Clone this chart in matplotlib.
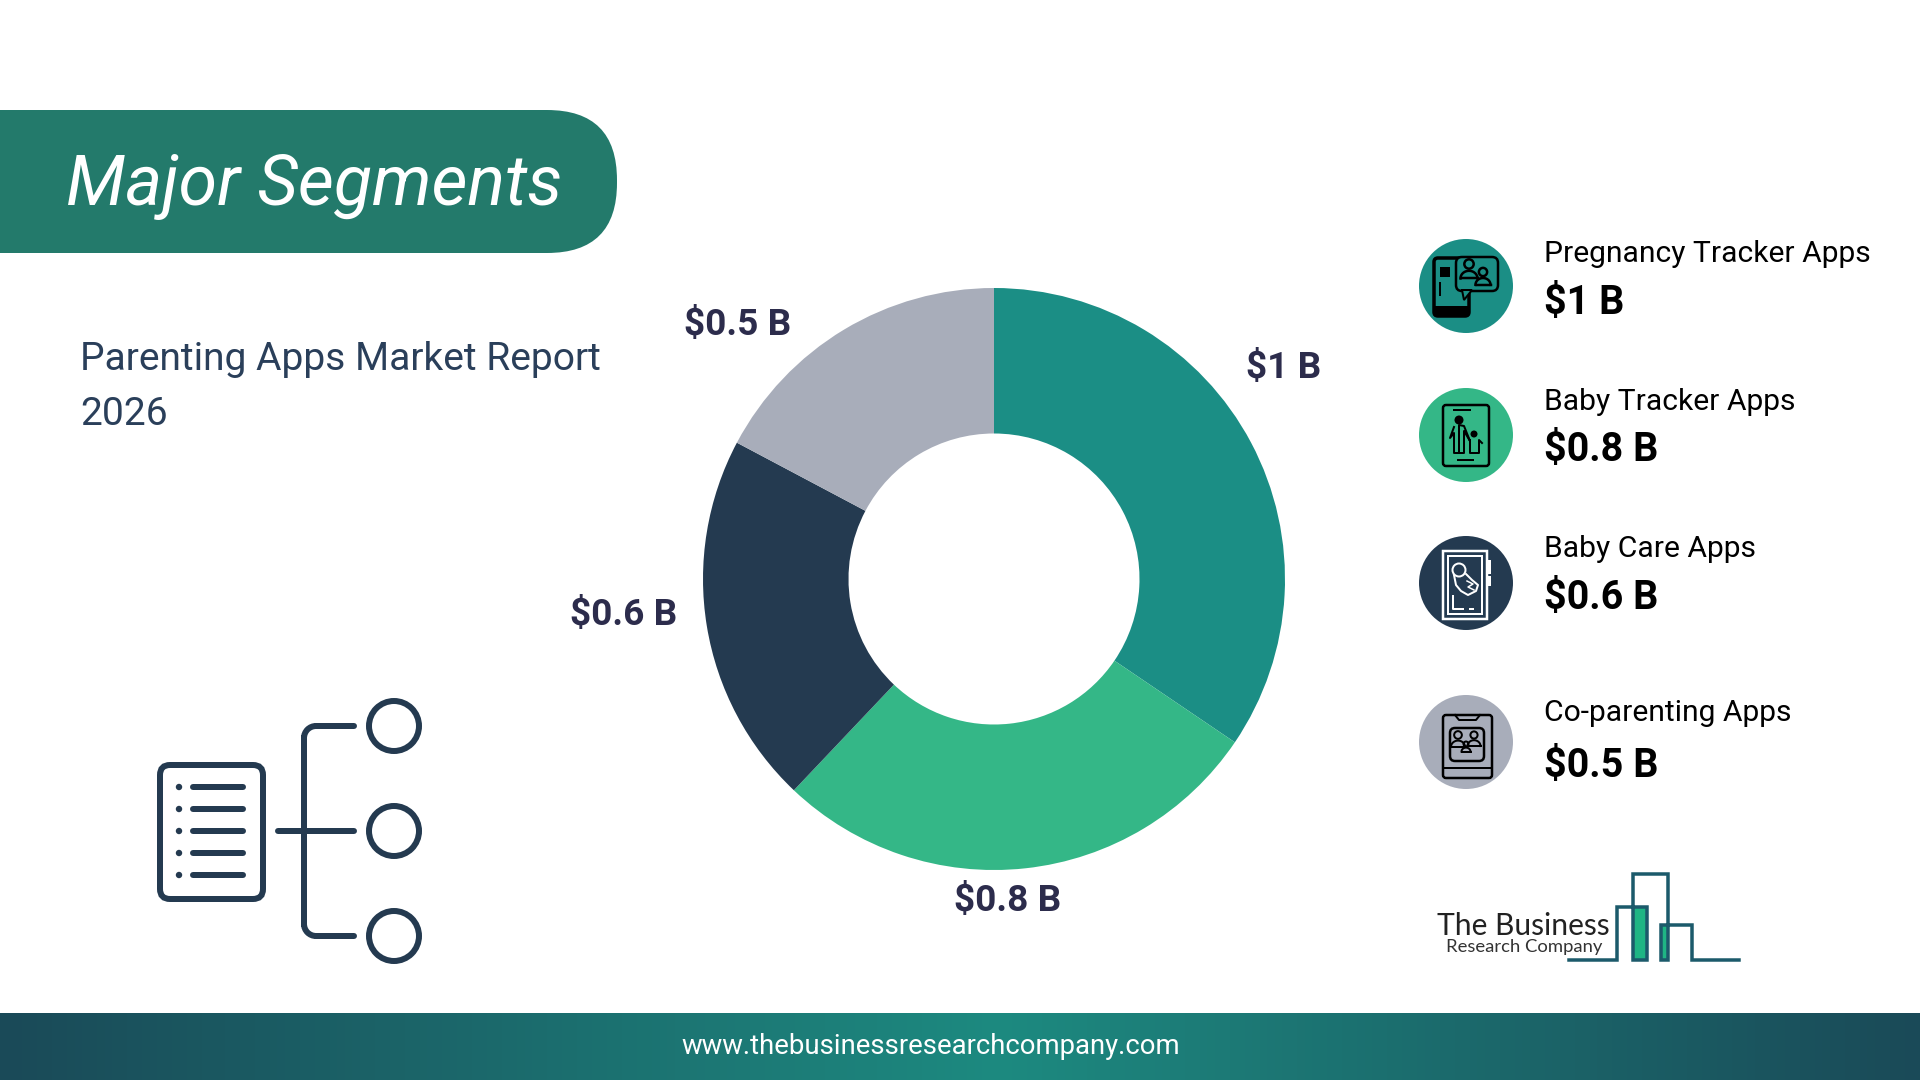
import numpy as np
import matplotlib
matplotlib.use('Agg')
import matplotlib.pyplot as plt
from matplotlib.patches import Circle, Rectangle, FancyBboxPatch, Arc
from matplotlib.colors import LinearSegmentedColormap

plt.rcParams['font.family'] = ['Roboto', 'DejaVu Sans']

# Data
segments = ['Pregnancy Tracker Apps', 'Baby Tracker Apps', 'Baby Care Apps', 'Co-parenting Apps']
values = [1, 0.8, 0.6, 0.5]
value_labels = ['$1 B', '$0.8 B', '$0.6 B', '$0.5 B']
colors = ['#1b8e85', '#34b787', '#243a50', '#a8adba']

NAVY = '#243a50'
PX = 0.72  # px to pt at dpi 100

fig = plt.figure(figsize=(19.2, 10.8), dpi=100, facecolor='white')
ax = fig.add_axes([0, 0, 1, 1])
ax.set_xlim(0, 1920)
ax.set_ylim(1080, 0)
ax.axis('off')

# Donut in its own axes
cx, cy, r = 994, 579, 291
pie_ax = fig.add_axes([(cx - r) / 1920, 1 - (cy + r) / 1080, 2 * r / 1920, 2 * r / 1080])
pie_ax.pie(values, colors=colors, startangle=90, counterclock=False, radius=1,
           wedgeprops={'width': 0.5, 'linewidth': 0})
pie_ax.set_xlim(-1, 1)
pie_ax.set_ylim(-1, 1)
pie_ax.axis('off')

label_pos = [(1284, 368), (1008, 901), (624, 615), (738, 325)]
for (lx, ly), lab in zip(label_pos, value_labels):
    ax.text(lx, ly, lab, ha='center', va='center', fontsize=37 * PX, fontweight='bold', color='#2c2c4c')

# Title band
ax.add_patch(FancyBboxPatch((-80, 110), 697, 143, boxstyle='round,pad=0,rounding_size=70',
                            fc='#237a6b', ec='none'))
ax.text(66, 205, 'Major Segments', color='white', fontsize=70 * PX, fontstyle='italic', va='baseline')

ax.text(80, 370, 'Parenting Apps Market Report', color='#2a3f5a', fontsize=39 * PX, va='baseline')
ax.text(80, 425, '2026', color='#2a3f5a', fontsize=39 * PX, va='baseline')

# Footer gradient
cmap = LinearSegmentedColormap.from_list('foot', [(0, '#1a4a58'), (0.52, '#1d8a80'), (1, '#1a4a58')])
ax.imshow(np.linspace(0, 1, 512).reshape(1, -1), cmap=cmap, extent=(0, 1920, 1080, 1013), aspect='auto', zorder=1)
ax.set_xlim(0, 1920)
ax.set_ylim(1080, 0)
ax.text(931, 1046, 'www.thebusinessresearchcompany.com', color='white', fontsize=27.5 * PX,
        ha='center', va='center', zorder=2)

# Left icon
ax.add_patch(FancyBboxPatch((160, 765), 103, 134, boxstyle='round,pad=0,rounding_size=10',
                            fc='none', ec=NAVY, lw=6 * PX))
for y in [787, 809, 831, 853, 875]:
    ax.add_patch(Circle((179, y), 3.2, fc=NAVY, ec='none'))
    ax.plot([193, 243], [y, y], color=NAVY, lw=6 * PX, solid_capstyle='round')
for y in [726, 831, 936]:
    ax.add_patch(Circle((394, y), 25, fc='none', ec=NAVY, lw=6 * PX))
ax.plot([278, 354], [831, 831], color=NAVY, lw=6 * PX, solid_capstyle='round')
ax.plot([354, 316], [726, 726], color=NAVY, lw=6 * PX, solid_capstyle='round')
ax.plot([354, 316], [936, 936], color=NAVY, lw=6 * PX, solid_capstyle='round')
ax.plot([304, 304], [738, 924], color=NAVY, lw=6 * PX)
ax.add_patch(Arc((316, 738), 24, 24, theta1=180, theta2=270, color=NAVY, lw=6 * PX))
ax.add_patch(Arc((316, 924), 24, 24, theta1=90, theta2=180, color=NAVY, lw=6 * PX))

# Legend side
icon_y = [286, 435, 583, 742]
name_y = [262, 410, 557, 721]
val_y = [314, 461, 609, 777]
for i, seg in enumerate(segments):
    ax.add_patch(Circle((1466, icon_y[i]), 47, fc=colors[i], ec='none'))
    ax.text(1544, name_y[i], seg, color='black', fontsize=30 * PX, va='baseline')
    ax.text(1544, val_y[i], value_labels[i], color='black', fontsize=39.5 * PX, fontweight='bold', va='baseline')


def box(x, y, w, h, color='black', lw=2.5, fc='none', rad=3, z=3):
    ax.add_patch(FancyBboxPatch((x, y), w, h, boxstyle=f'round,pad=0,rounding_size={rad}',
                                fc=fc, ec=color, lw=lw * PX, zorder=z))


def person(x, y, s, color='black', lw=2.5):
    # head and shoulders outline
    ax.add_patch(Circle((x, y), s * 0.55, fc='none', ec=color, lw=lw * PX, zorder=4))
    t = np.linspace(np.pi, 2 * np.pi, 20)
    ax.plot(x + s * np.cos(t), y + s * 1.7 + s * 0.9 * np.sin(t), color=color, lw=lw * PX, zorder=4)
    ax.plot([x - s, x + s], [y + s * 1.7, y + s * 1.7], color=color, lw=lw * PX, zorder=4)


# Icon 1: phone with chat bubble
y0 = icon_y[0]
box(1434, y0 - 28, 35, 58, lw=3.5, rad=4)
ax.add_patch(Rectangle((1434, y0 + 20), 35, 10, fc='black', ec='none', zorder=3))
ax.add_patch(Rectangle((1440, y0 - 19), 10, 10, fc='black', ec='none', zorder=3))
ax.plot([1440, 1440], [y0 - 3, y0 + 9], color='black', lw=2 * PX, zorder=3)
box(1456, y0 - 29, 42, 34, fc=colors[0], lw=2.5, rad=6, z=3)
ax.fill([1462, 1472, 1464], [y0 + 4, y0 + 4, y0 + 14], fc=colors[0], ec='black', lw=2 * PX, zorder=3)
person(1469, y0 - 22, 8.5)
person(1483, y0 - 14, 7.5)

# Icon 2: tablet with adult and child
y0 = icon_y[1]
box(1443, y0 - 30, 46, 61, lw=2.5, rad=3)
ax.plot([1454, 1470], [y0 - 25, y0 - 25], color='black', lw=2 * PX, zorder=4)
ax.plot([1458, 1473], [y0 + 25, y0 + 25], color='black', lw=2 * PX, zorder=4)
ax.add_patch(Circle((1459, y0 - 15), 4.5, fc='black', ec='none', zorder=4))
ax.add_patch(Circle((1474, y0 - 1), 3.5, fc='black', ec='none', zorder=4))
ax.plot([1454, 1450, 1454, 1454, 1464, 1464, 1470, 1464, 1459, 1459],
        [y0 - 8, y0 + 3, y0 - 2, y0 + 18, y0 + 18, y0 - 4, y0 + 6, y0 - 9, y0 - 10, y0 + 18],
        color='black', lw=2 * PX, zorder=4)
ax.plot([1470, 1470, 1479, 1479, 1482],
        [y0 + 5, y0 + 18, y0 + 18, y0 + 5, y0 + 8], color='black', lw=2 * PX, zorder=4)

# Icon 3: phone with fetus (white)
y0 = icon_y[2]
ax.add_patch(Rectangle((1443, y0 - 32), 44, 68, fc='none', ec='white', lw=2.5 * PX, zorder=3))
ax.add_patch(Rectangle((1448, y0 - 27), 34, 58, fc='none', ec='white', lw=2 * PX, zorder=3))
ax.add_patch(Rectangle((1487, y0 - 23), 4, 14, fc='white', ec='none', zorder=3))
ax.add_patch(Rectangle((1487, y0 - 7), 4, 10, fc='white', ec='none', zorder=3))
ax.add_patch(Circle((1459, y0 - 13), 6.5, fc='none', ec='white', lw=2 * PX, zorder=4))
fx = [1454, 1456, 1461, 1468, 1476, 1478, 1472, 1466]
fy = [y0 - 8, y0 + 2, y0 + 8, y0 + 12, y0 + 8, y0 + 2, y0 - 3, y0 - 9]
ax.plot(fx, fy, color='white', lw=2 * PX, zorder=4)
ax.plot([1467, 1473, 1468, 1474], [y0 - 2, y0 + 1, y0 + 4, y0 + 7], color='white', lw=1.5 * PX, zorder=4)
ax.plot([1453, 1453, 1463], [y0 + 13, y0 + 26, y0 + 26], color='white', lw=2 * PX, zorder=4)
ax.plot([1470, 1473], [y0 + 26, y0 + 26], color='white', lw=2 * PX, zorder=4)

# Icon 4: tablet with family
y0 = icon_y[3]
box(1443, y0 - 27, 49, 63, lw=2.5, rad=3)
ax.plot([1455, 1459, 1476, 1480], [y0 - 27, y0 - 22, y0 - 22, y0 - 27], color='black', lw=2 * PX, zorder=4)
ax.plot([1443, 1492], [y0 + 26, y0 + 26], color='black', lw=2 * PX, zorder=4)
box(1450, y0 - 14, 34, 33, lw=2.5, rad=5)
person(1458, y0 - 7, 7, lw=2)
person(1474, y0 - 7, 6.5, lw=2)
person(1466, y0 + 2, 4.5, lw=2)

# Logo
logo_x = [1569, 1617, 1617, 1647, 1647, 1633, 1633, 1668, 1668, 1661, 1661, 1692, 1692, 1739]
logo_y = [960, 960, 907, 907, 960, 960, 874, 874, 960, 960, 925, 925, 960, 960]
ax.add_patch(Rectangle((1633, 907), 14, 53, fc='#1fb584', ec='none', zorder=2))
ax.add_patch(Rectangle((1661, 925), 7, 35, fc='#1fb584', ec='none', zorder=2))
ax.plot(logo_x, logo_y, color='#1c5a6b', lw=3.5 * PX, solid_joinstyle='miter', zorder=3)
ax.text(1437, 935, 'The Business', color='#222222', fontsize=30 * PX, family=['Lato', 'DejaVu Sans'],
        va='baseline')
ax.text(1446, 952, 'Research Company', color='#333333', fontsize=18.5 * PX, family=['Lato', 'DejaVu Sans'],
        va='baseline')

fig.savefig('out.png', dpi=100, facecolor='white')
